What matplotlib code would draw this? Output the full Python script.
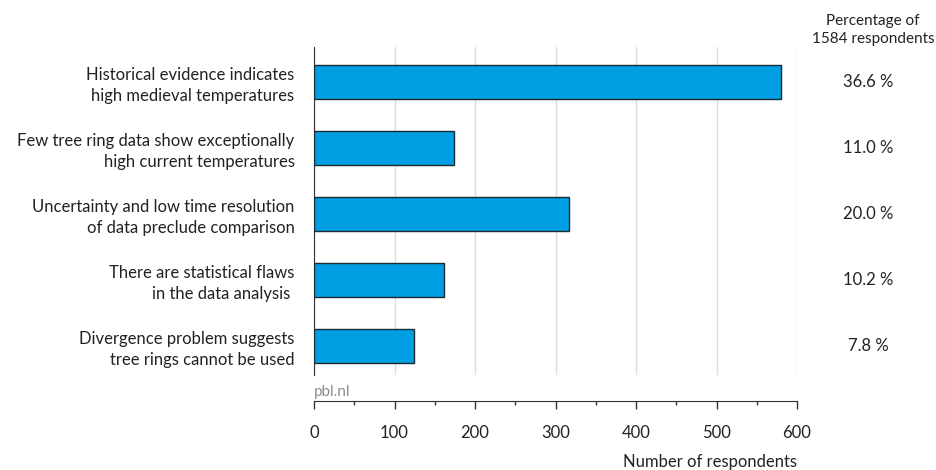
import matplotlib.pyplot as plt
from matplotlib.ticker import MultipleLocator
from matplotlib.transforms import blended_transform_factory

plt.rcParams['font.family'] = ['Lato', 'DejaVu Sans']

labels = ["Historical evidence indicates\nhigh medieval temperatures",
          "Few tree ring data show exceptionally\nhigh current temperatures",
          "Uncertainty and low time resolution\nof data preclude comparison",
          "There are statistical flaws\nin the data analysis ",
          "Divergence problem suggests\ntree rings cannot be used"]
respondents = [580, 174, 317, 162, 124]
percent = ["36.6 %", "11.0 %", "20.0 %", "10.2 %", "7.8 %"]
xticks = [0, 100, 200, 300, 400, 500, 600]

fs = 12
fig = plt.figure(figsize=(9.36, 4.7), dpi=100)
ax = fig.add_axes([314 / 936, 1 - 375 / 470, (797 - 314) / 936, (375 - 47) / 470])

ypos = list(range(len(labels)))
ax.barh(ypos, respondents, height=0.52, color='#009FE3', edgecolor='#1a2a33', linewidth=1, zorder=3)

ax.set_xlim(0, 600)
ax.set_ylim(4.44, -0.53)
ax.set_yticks(ypos)
ax.set_yticklabels(labels, fontsize=fs, color='#222222', ha='right', multialignment='right',
                   linespacing=1.35)
ax.tick_params(axis='y', length=0, pad=14)

ax.set_xticks(xticks)
ax.xaxis.set_minor_locator(MultipleLocator(50))
ax.grid(axis='x', color='#dddddd', linewidth=1, zorder=0)
ax.tick_params(axis='x', which='major', length=6, width=1, color='#333333', direction='out',
               labelsize=fs, labelcolor='#222222', pad=11)
ax.tick_params(axis='x', which='minor', length=3, width=1, color='#333333', direction='out')

for s in ['top', 'right']:
    ax.spines[s].set_visible(False)
ax.spines['left'].set_color('#333333')
ax.spines['bottom'].set_position(('outward', 19))
ax.spines['bottom'].set_color('#333333')

ax.set_xlabel("Number of respondents", fontsize=fs, color='#222222', loc='right', labelpad=9)

ax.text(0, 1 - (392 - 47) / (375 - 47), "pbl.nl", transform=ax.transAxes, fontsize=11,
        color='#8c8c8c', ha='left', va='center')

trans = blended_transform_factory(fig.transFigure, ax.transData)
for y, p in zip(ypos, percent):
    ax.text(868 / 936, y, p, transform=trans, fontsize=fs, color='#222222', ha='center', va='center')

fig.text(873 / 936, 1 - 30 / 470, "Percentage of\n1584 respondents", fontsize=11,
         color='#222222', ha='center', va='center', linespacing=1.4)

fig.savefig("out.png", dpi=100)
